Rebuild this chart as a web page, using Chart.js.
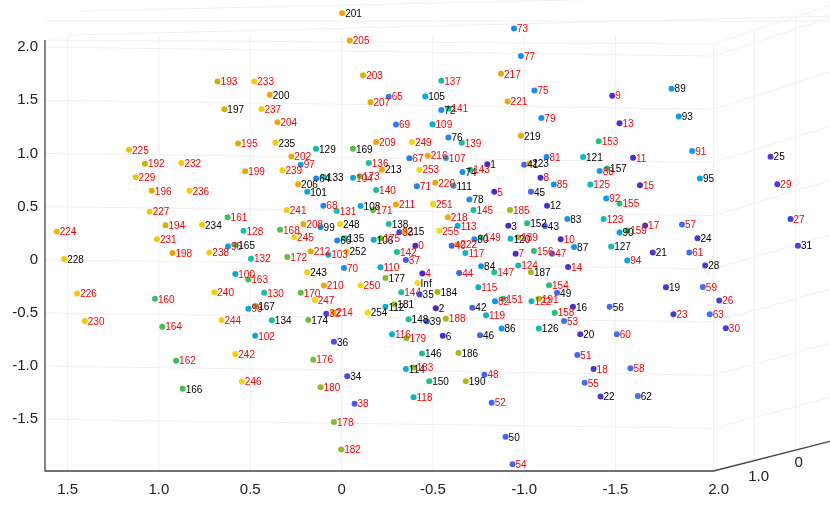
<!DOCTYPE html>
<html lang="en">

<head>
    <meta charset="UTF-8">
    <title>3D scatter - labelled points</title>
    <style>
        html, body { margin: 0; padding: 0; background: #fff; }
        #myChart01 { display: block; }
    </style>
</head>

<body>
    <canvas id="myChart01" width="830" height="510"></canvas>
    <script src="https://cdn.jsdelivr.net/npm/chart.js"></script>
    <script>
        // point names: 0..255 and one "Inf"
        var pointNames = [];
        for (var n = 0; n < 256; n++) pointNames.push(String(n));
        pointNames.push('Inf');

        // projected x
        var xValues = [
            -0.404, -0.798, -0.516, -0.913, -0.442, -0.836, -0.554, -0.953, -1.089, -1.482, -1.200, -1.596, -1.125, -1.522, -1.240, -1.634,
            -1.267, -1.662, -1.380, -1.776, -1.307, -1.704, -1.418, -1.817, -1.949, -2.349, -2.068, -2.458, -1.991, -2.386, -2.104, -2.499,
            0.084, -0.316, -0.031, -0.427, 0.042, -0.352, -0.071, -0.467, -0.603, -1.000, -0.716, -1.113, -0.644, -1.037, -0.758, -1.153,
            -0.782, -1.180, -0.898, -1.291, -0.822, -1.218, -0.936, -1.331, -1.468, -1.864, -1.582, -1.978, -1.507, -1.904, -1.622, -2.016,
            0.139, -0.258, 0.024, -0.371, 0.100, -0.298, -0.013, -0.412, -0.546, -0.944, -0.662, -1.056, -0.585, -0.982, -0.700, -1.094,
            -0.727, -1.122, -0.840, -1.236, -0.764, -1.162, -0.876, -1.273, -1.413, -1.807, -1.522, -1.920, -1.449, -1.846, -1.564, -1.962,
            0.622, 0.224, 0.510, 0.115, 0.582, 0.188, 0.473, 0.073, -0.063, -0.458, -0.176, -0.571, -0.104, -0.498, -0.213, -0.613,
            -0.240, -0.636, -0.352, -0.749, -0.276, -0.678, -0.394, -0.791, -0.925, -1.322, -1.040, -1.435, -0.967, -1.362, -1.080, -1.476,
            0.537, 0.140, 0.424, 0.027, 0.496, 0.097, 0.382, -0.016, -0.149, -0.546, -0.258, -0.658, -0.189, -0.585, -0.303, -0.704,
            -0.327, -0.722, -0.440, -0.836, -0.367, -0.764, -0.480, -0.885, -1.016, -1.408, -1.136, -1.522, -1.053, -1.454, -1.167, -1.564,
            1.022, 0.624, 0.906, 0.511, 0.982, 0.582, 0.870, 0.473, 0.337, -0.062, 0.224, -0.172, 0.297, -0.100, 0.182, -0.213,
            0.155, -0.240, 0.042, -0.355, 0.115, -0.289, 0.002, -0.394, -0.525, -0.922, -0.640, -1.037, -0.571, -0.967, -0.680, -1.080,
            1.077, 0.679, 0.964, 0.567, 1.039, 0.642, 0.926, 0.528, 0.393, -0.003, 0.275, -0.118, 0.351, -0.045, 0.238, -0.158,
            0.209, -0.189, 0.097, -0.298, 0.169, -0.221, 0.046, -0.345, -0.472, -0.873, -0.582, -0.982, -0.513, -0.909, -0.634, -1.027,
            1.560, 1.164, 1.448, 1.051, 1.519, 1.128, 1.406, 1.011, 0.877, 0.478, 0.764, 0.362, 0.833, 0.439, 0.724, 0.324,
            0.697, 0.300, 0.582, 0.188, 0.658, 0.260, 0.546, 0.147, 0.009, -0.385, -0.104, -0.500, -0.027, -0.426, -0.143, -0.535,
            -0.416
        ];

        // projected y
        var yValues = [
            0.132, 0.898, -0.457, 0.319, -0.130, 0.639, -0.715, 0.057, 0.772, 1.542, 0.193, 0.959, 0.508, 1.283, -0.068, 0.701,
            -0.442, 0.321, -1.027, -0.258, -0.700, 0.069, -1.285, -0.513, 0.203, 0.969, -0.382, 0.384, -0.055, 0.711, -0.644, 0.132,
            -0.507, 0.259, -1.096, -0.326, -0.772, -0.003, -1.353, -0.578, 0.132, 0.894, -0.451, 0.317, -0.124, 0.639, -0.709, 0.057,
            -1.080, -0.311, -1.665, -0.896, -1.344, -0.575, -1.923, -1.157, -0.442, 0.331, -1.021, -0.255, -0.700, 0.069, -1.282, -0.513,
            0.763, 1.533, 0.181, 0.954, 0.508, 1.271, -0.078, 0.692, 1.408, 2.174, 0.826, 1.592, 1.150, 1.916, 0.567, 1.333,
            0.193, 0.966, -0.389, 0.384, -0.062, 0.707, -0.647, 0.119, 0.835, 1.608, 0.256, 1.022, 0.576, 1.346, -0.008, 0.763,
            0.125, 0.894, -0.460, 0.305, -0.134, 0.639, -0.715, 0.048, 0.770, 1.536, 0.188, 0.956, 0.505, 1.274, -0.071, 0.695,
            -0.442, 0.319, -1.027, -0.258, -0.700, 0.063, -1.292, -0.522, 0.197, 0.966, -0.389, 0.384, -0.055, 0.707, -0.647, 0.125,
            0.272, 1.043, -0.311, 0.459, 0.010, 0.779, -0.569, 0.203, 0.910, 1.682, 0.337, 1.099, 0.655, 1.423, 0.074, 0.847,
            -0.305, 0.468, -0.881, -0.118, -0.560, 0.209, -1.142, -0.367, 0.343, 1.115, -0.239, 0.530, 0.083, 0.857, -0.498, 0.275,
            -0.367, 0.399, -0.949, -0.186, -0.629, 0.141, -1.213, -0.435, 0.281, 1.043, -0.311, 0.468, 0.025, 0.786, -0.566, 0.203,
            -0.940, -0.171, -1.525, -0.737, -1.198, -0.419, -1.783, -1.012, -0.302, 0.468, -0.877, -0.118, -0.554, 0.212, -1.142, -0.367,
            0.903, 1.676, 0.324, 1.094, 0.648, 1.414, 0.063, 0.832, 1.551, 2.317, 0.972, 1.735, 1.293, 2.061, 0.711, 1.480,
            0.337, 1.106, -0.242, 0.520, 0.078, 0.847, -0.498, 0.265, 0.978, 1.748, 0.399, 1.165, 0.723, 1.489, 0.147, 0.903,
            0.265, 1.034, -0.317, 0.452, 0.007, 0.776, -0.575, 0.193, 0.910, 1.676, 0.328, 1.099, 0.648, 1.417, 0.069, 0.842,
            -0.305, 0.468, -0.886, -0.118, -0.566, 0.212, -1.145, -0.379, 0.337, 1.106, -0.242, 0.524, 0.078, 0.847, -0.498, 0.272,
            -0.218
        ];

        // names written in black (all the others are red)
        var blackNames = ['1', '2', '3', '6', '12', '16', '19', '20', '21', '22', '24', '25', '28', '31', '34', '35', '36', '39',
            '41', '42', '43', '45', '46', '49', '50', '56', '62', '64', '66', '72', '74', '76', '78', '80', '83', '84', '86', '87',
            '89', '90', '93', '95', '99', '101', '105', '106', '108', '111', '112', '114', '120', '121', '126', '127', '129', '133',
            '134', '135', '138', '146', '148', '150', '152', '157', '165', '166', '167', '169', '174', '177', '181', '184', '186',
            '187', '190', '197', '200', '201', '206', '213', '215', '219', '223', '228', '234', '235', '243', '248', '252', '254', 'Inf'];

        // axis ticks
        var xTickValues = [1.5, 1.0, 0.5, 0, -0.5, -1.0, -1.5];
        var yTickValues = [-1.5, -1.0, -0.5, 0, 0.5, 1.0, 1.5, 2.0];
        var depthTickValues = [2.0, 1.0, 0];

        // colour ramp along the point number
        var colourStops = [
            [0, '#4a25cc'], [31, '#4d3ce0'], [40, '#4560f2'], [63, '#3a72f8'], [64, '#2080ff'], [90, '#0a9cf0'],
            [110, '#00b0e0'], [128, '#10bfb0'], [150, '#18c585'], [165, '#40c050'], [180, '#88c020'], [192, '#c4b600'],
            [200, '#eea800'], [222, '#f5a600'], [226, '#f8c400'], [255, '#f8dc00']
        ];

        function hexToRgb(h) {
            return [parseInt(h.substr(1, 2), 16), parseInt(h.substr(3, 2), 16), parseInt(h.substr(5, 2), 16)];
        }

        function rampColour(i) {
            for (var k = 1; k < colourStops.length; k++) {
                if (i <= colourStops[k][0]) {
                    var a = colourStops[k - 1], b = colourStops[k];
                    var t = (i - a[0]) / (b[0] - a[0]);
                    var ca = hexToRgb(a[1]), cb = hexToRgb(b[1]);
                    return 'rgb(' + Math.round(ca[0] + (cb[0] - ca[0]) * t) + ',' + Math.round(ca[1] + (cb[1] - ca[1]) * t) + ',' + Math.round(ca[2] + (cb[2] - ca[2]) * t) + ')';
                }
            }
            return colourStops[colourStops.length - 1][1];
        }

        var points = [];
        var dotColours = [];
        pointNames.forEach(function (name, i) {
            points.push({ x: xValues[i], y: yValues[i] });
            dotColours.push(rampColour(Math.min(i, 255)));
        });

        // frame of the 3d box (in data units of the front plane)
        var frameRight = -2.037;
        var frameTop = 2.065;

        function tickText(v) {
            return v === 0 ? '0' : v.toFixed(1);
        }

        // box, grid lines and axes
        var boxPlugin = {
            id: 'box3d',
            beforeDatasetsDraw: function (chart) {
                var c = chart.ctx, x = chart.scales.x, y = chart.scales.y;
                var left = chart.chartArea.left, bottom = chart.chartArea.bottom, right = chart.width;
                var xr = x.getPixelForValue(frameRight);
                var yt = y.getPixelForValue(frameTop);
                var slope = function (py) { return 0.254 + (bottom - py) * 0.00018; };
                c.save();
                c.lineWidth = 1;
                c.strokeStyle = '#f0f0f0';
                // back wall horizontal lines + side wall
                yTickValues.forEach(function (v) {
                    var py = y.getPixelForValue(v);
                    c.beginPath();
                    c.moveTo(left, py);
                    c.lineTo(xr, py + 9);
                    c.lineTo(right, py + 9 - (right - xr) * slope(py));
                    c.stroke();
                });
                // vertical grid lines
                xTickValues.forEach(function (v) {
                    var px = x.getPixelForValue(v);
                    c.beginPath();
                    c.moveTo(px, bottom);
                    c.lineTo(px, yt - 5);
                    c.stroke();
                });
                // front right edge and top
                c.beginPath();
                c.moveTo(xr, bottom);
                c.lineTo(xr, yt + 4);
                c.lineTo(right, yt + 4 - (right - xr) * slope(yt));
                c.moveTo(left, yt);
                c.lineTo(xr, yt + 4);
                c.moveTo(x.getPixelForValue(xTickValues[0]), yt - 5);
                c.lineTo(right, yt - 24);
                c.moveTo(left, yt - 19);
                c.lineTo(right, yt - 19);
                c.moveTo(left + 35, yt - 29);
                c.lineTo(right, yt - 46);
                c.stroke();
                // side wall depth lines
                depthTickValues.forEach(function (d, k) {
                    if (k === 0) return;
                    var px = xr + 41 * k;
                    c.beginPath();
                    c.moveTo(px, bottom - (px - xr) * slope(bottom));
                    c.lineTo(px, yt + 4 - (px - xr) * slope(yt));
                    c.stroke();
                });
                // axes
                c.strokeStyle = '#444';
                c.lineWidth = 1.3;
                c.beginPath();
                c.moveTo(left, yt);
                c.lineTo(left, bottom);
                c.lineTo(xr, bottom);
                c.lineTo(right, bottom - (right - xr) * slope(bottom));
                c.stroke();
                // depth axis labels
                c.fillStyle = '#222';
                c.font = '15px "Liberation Sans", Arial, sans-serif';
                c.textAlign = 'center';
                c.textBaseline = 'middle';
                depthTickValues.forEach(function (d) {
                    var k = 2 - d;
                    c.fillText(tickText(d), xr + 5 + 40 * k, bottom + 19 - 13.5 * k);
                });
                c.restore();
            }
        };

        // number next to every point
        var labelPlugin = {
            id: 'pointNames',
            afterDatasetsDraw: function (chart) {
                var c = chart.ctx;
                var meta = chart.getDatasetMeta(0);
                c.save();
                c.font = '10px "Liberation Sans", Arial, sans-serif';
                c.textAlign = 'left';
                c.textBaseline = 'middle';
                meta.data.forEach(function (el, i) {
                    var name = pointNames[i];
                    c.fillStyle = blackNames.indexOf(name) >= 0 ? '#000' : '#ff0000';
                    c.fillText(name, el.x + 3, el.y + 1);
                });
                c.restore();
            }
        };

        var ctx01 = document.getElementById('myChart01');
        var chart01 = new Chart(ctx01, {
            type: 'scatter',
            data: {
                datasets: [{
                    data: points,
                    pointRadius: 3,
                    pointHoverRadius: 3,
                    pointBorderWidth: 0,
                    pointBackgroundColor: dotColours,
                    clip: false
                }]
            },
            options: {
                responsive: false,
                animation: false,
                events: [],
                layout: { padding: 0 },
                plugins: {
                    legend: { display: false },
                    tooltip: { enabled: false }
                },
                scales: {
                    x: {
                        type: 'linear',
                        reverse: true,
                        min: -2.658,
                        max: 1.624,
                        grid: { display: false, drawTicks: false },
                        border: { display: false },
                        afterBuildTicks: function (s) {
                            s.ticks = xTickValues.map(function (v) { return { value: v }; });
                        },
                        afterFit: function (s) {
                            s.height = 39;
                            s.paddingLeft = 0;
                            s.paddingRight = 0;
                        },
                        ticks: {
                            padding: 10,
                            color: '#222',
                            maxRotation: 0,
                            autoSkip: false,
                            font: { size: 15, family: '"Liberation Sans", Arial, sans-serif' },
                            callback: function (v) { return tickText(v); }
                        }
                    },
                    y: {
                        type: 'linear',
                        min: -1.986,
                        max: 2.414,
                        grid: { display: false, drawTicks: false },
                        border: { display: false },
                        afterBuildTicks: function (s) {
                            s.ticks = yTickValues.map(function (v) { return { value: v }; });
                        },
                        afterFit: function (s) {
                            s.width = 45;
                            s.paddingTop = 0;
                            s.paddingBottom = 0;
                        },
                        ticks: {
                            padding: 7,
                            color: '#222',
                            autoSkip: false,
                            font: { size: 15, family: '"Liberation Sans", Arial, sans-serif' },
                            callback: function (v) { return tickText(v); }
                        }
                    }
                }
            },
            plugins: [boxPlugin, labelPlugin]
        });
    </script>
</body>

</html>
